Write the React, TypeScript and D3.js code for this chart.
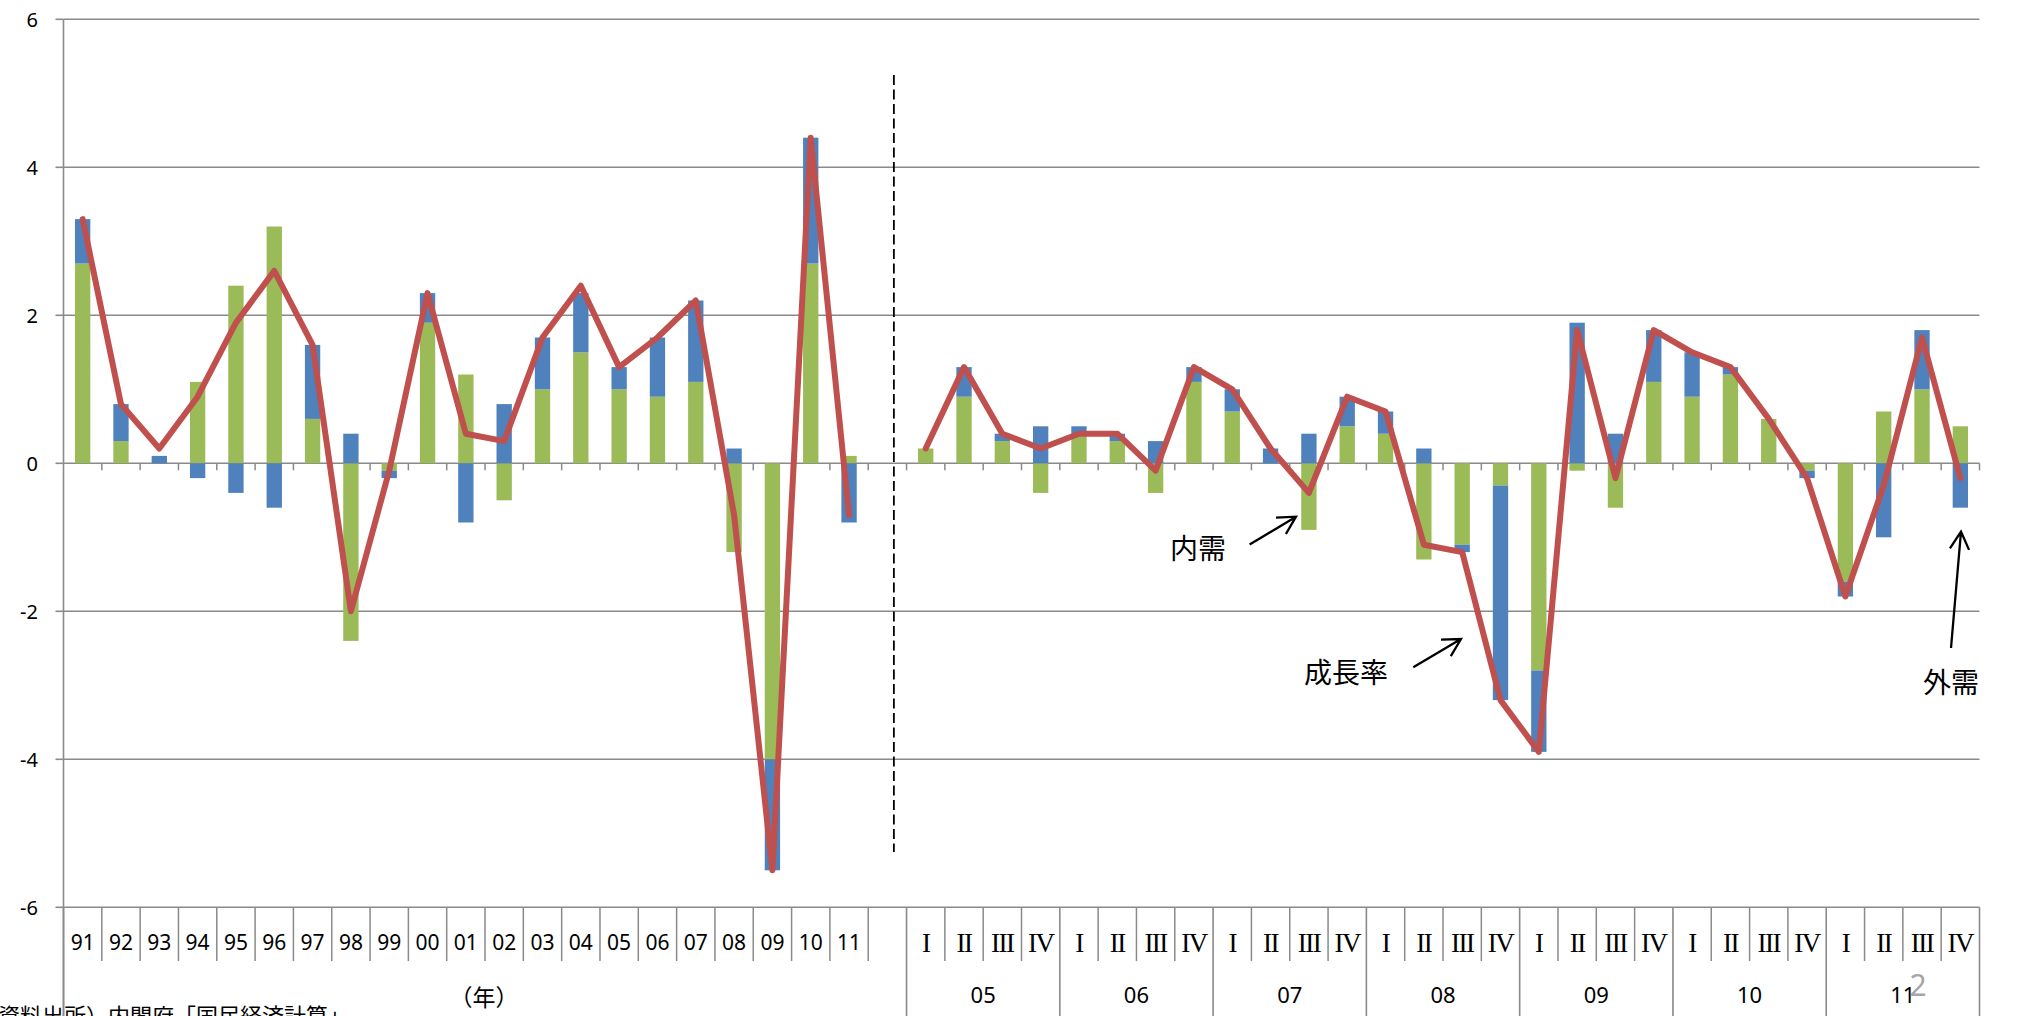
import React from "react";
import * as d3 from "d3";

// annual contributions (%), 1991-2011
const annualLabels = ["91", "92", "93", "94", "95", "96", "97", "98", "99", "00", "01", "02", "03", "04", "05", "06", "07", "08", "09", "10", "11"];
const annualDomestic = [2.7, 0.3, 0.0, 1.1, 2.4, 3.2, 0.6, -2.4, -0.1, 1.9, 1.2, -0.5, 1.0, 1.5, 1.0, 0.9, 1.1, -1.2, -4.0, 2.7, 0.1];
const annualExternal = [0.6, 0.5, 0.1, -0.2, -0.4, -0.6, 1.0, 0.4, -0.1, 0.4, -0.8, 0.8, 0.7, 0.8, 0.3, 0.8, 1.1, 0.2, -1.5, 1.7, -0.8];
const annualGrowth = [3.3, 0.8, 0.2, 0.9, 1.9, 2.6, 1.6, -2.0, -0.1, 2.3, 0.4, 0.3, 1.7, 2.4, 1.3, 1.7, 2.2, -0.7, -5.5, 4.4, -0.7];

// quarterly contributions (%), 2005 I - 2011 IV
const quarterYears = ["05", "06", "07", "08", "09", "10", "11"];
const quarterNames = ["I", "II", "III", "IV"];
const quarterDomestic = [
  0.2, 0.9, 0.3, -0.4,
  0.4, 0.3, -0.4, 1.1,
  0.7, 0.0, -0.9, 0.5,
  0.4, -1.3, -1.1, -0.3,
  -2.8, -0.1, -0.6, 1.1,
  0.9, 1.2, 0.6, -0.1,
  -1.6, 0.7, 1.0, 0.5,
];
const quarterExternal = [
  0.0, 0.4, 0.1, 0.5,
  0.1, 0.1, 0.3, 0.2,
  0.3, 0.2, 0.4, 0.4,
  0.3, 0.2, -0.1, -2.9,
  -1.1, 1.9, 0.4, 0.7,
  0.6, 0.1, 0.0, -0.1,
  -0.2, -1.0, 0.8, -0.6,
];
const quarterGrowth = [
  0.2, 1.3, 0.4, 0.2,
  0.4, 0.4, -0.1, 1.3,
  1.0, 0.2, -0.4, 0.9,
  0.7, -1.1, -1.2, -3.2,
  -3.9, 1.8, -0.2, 1.8,
  1.5, 1.3, 0.6, -0.2,
  -1.8, -0.3, 1.7, -0.2,
];

const yTicks = [-6, -4, -2, 0, 2, 4, 6];

type Row = {
  key: string;
  label: string;
  kind: "year" | "gap" | "quarter";
  group: string;
  domestic: number;
  external: number;
  growth: number | null;
};

const rows: Row[] = [
  ...annualLabels.map((l, i) => ({
    key: "a" + l,
    label: l,
    kind: "year" as const,
    group: "",
    domestic: annualDomestic[i],
    external: annualExternal[i],
    growth: annualGrowth[i],
  })),
  { key: "gap", label: "", kind: "gap" as const, group: "", domestic: 0, external: 0, growth: null },
  ...quarterYears.flatMap((yr, yi) =>
    quarterNames.map((q, qi) => {
      const i = yi * 4 + qi;
      return {
        key: "q" + yr + "-" + q,
        label: q,
        kind: "quarter" as const,
        group: yr,
        domestic: quarterDomestic[i],
        external: quarterExternal[i],
        growth: quarterGrowth[i],
      };
    })
  ),
];

const W = 2017;
const H = 1016;
const left = 63.5;
const right = 1979.5;
const top = 19.3;
const bottom = 907.3;
const grey = "#8a8a8a";
const colors: Record<string, string> = { domestic: "#9BBB59", external: "#4F81BD" };
const sans = "'Noto Sans', 'Noto Sans CJK JP', sans-serif";
const cjk = "'Noto Sans CJK JP', 'Noto Sans', sans-serif";

// simple open arrow (line + two barbs)
function arrowPath(x1: number, y1: number, x2: number, y2: number) {
  const a = Math.atan2(y2 - y1, x2 - x1);
  const len = 20;
  const spread = 0.5;
  const b1 = [x2 - len * Math.cos(a - spread), y2 - len * Math.sin(a - spread)];
  const b2 = [x2 - len * Math.cos(a + spread), y2 - len * Math.sin(a + spread)];
  return `M${x1},${y1}L${x2},${y2}M${b1[0]},${b1[1]}L${x2},${y2}L${b2[0]},${b2[1]}`;
}

const App = () => {
  const x = d3
    .scaleBand<string>()
    .domain(rows.map((d) => d.key))
    .range([left, right])
    .paddingInner(0.6)
    .paddingOuter(0.3);
  const y = d3.scaleLinear().domain([-6, 6]).range([bottom, top]);
  const step = x.step();
  const bw = x.bandwidth();
  const cellStart = (k: string) => (x(k) as number) - (step - bw) / 2;
  const center = (k: string) => (x(k) as number) + bw / 2;

  const series = d3
    .stack<Row>()
    .keys(["domestic", "external"])
    .value((d, k) => (d as any)[k] as number)
    .offset(d3.stackOffsetDiverging)(rows);

  const line = d3
    .line<Row>()
    .defined((d) => d.growth !== null)
    .x((d) => center(d.key))
    .y((d) => y(d.growth as number));

  const annualRows = rows.filter((d) => d.kind === "year");
  const quarterRows = rows.filter((d) => d.kind === "quarter");
  const gapRow = rows.find((d) => d.kind === "gap") as Row;
  const y0 = y(0);

  // table cell boundaries below the plot
  const shortLines: number[] = [];
  const longLines: number[] = [left];
  rows.forEach((d, i) => {
    if (i === 0) return;
    if (d.kind === "quarter" && d.label === "I") longLines.push(cellStart(d.key));
    else shortLines.push(cellStart(d.key));
  });
  longLines.push(right);

  const dashX = center(gapRow.key) + 6.5;

  return (
    <>
      <style>{`body{margin:0;overflow:hidden;background:#fff}`}</style>
      <svg width={W} height={H} style={{ position: "absolute", left: 0, top: 0, display: "block", background: "#fff" }}>
        {/* gridlines */}
        {yTicks.map((t) => (
          <g key={t}>
            <line x1={left} x2={right} y1={y(t)} y2={y(t)} stroke={grey} strokeWidth={1.6} />
            <line x1={left - 8} x2={left} y1={y(t)} y2={y(t)} stroke={grey} strokeWidth={1.6} />
            <text x={38} y={y(t) + 8} textAnchor="end" fontFamily={sans} fontSize={20} fill="#000">
              {t}
            </text>
          </g>
        ))}

        {/* y axis, extended through the table */}
        <line x1={left} x2={left} y1={top} y2={H} stroke={grey} strokeWidth={1.6} />

        {/* category ticks on the zero line */}
        {rows.slice(1).map((d) => (
          <line key={"t" + d.key} x1={cellStart(d.key)} x2={cellStart(d.key)} y1={y0} y2={y0 + 7} stroke={grey} strokeWidth={1.5} />
        ))}
        <line x1={right} x2={right} y1={y0} y2={y0 + 7} stroke={grey} strokeWidth={1.5} />

        {/* stacked bars */}
        {series.map((s) => (
          <g key={s.key} fill={colors[s.key]}>
            {s.map((p, i) => {
              const h = Math.abs(y(p[0]) - y(p[1]));
              if (h < 0.01) return null;
              return <rect key={i} x={x(rows[i].key)} y={Math.min(y(p[0]), y(p[1]))} width={bw} height={h} />;
            })}
          </g>
        ))}

        {/* growth rate line */}
        <path d={line(rows) as string} fill="none" stroke="#C0504D" strokeWidth={6} strokeLinejoin="round" strokeLinecap="round" />

        {/* divider between annual and quarterly */}
        <line x1={dashX} x2={dashX} y1={75} y2={852} stroke="#000" strokeWidth={1.8} strokeDasharray="10,4.5" />

        {/* table lines */}
        {shortLines.map((lx, i) => (
          <line key={"s" + i} x1={lx} x2={lx} y1={bottom} y2={961} stroke={grey} strokeWidth={1.5} />
        ))}
        {longLines.map((lx, i) => (
          <line key={"l" + i} x1={lx} x2={lx} y1={bottom} y2={H} stroke={grey} strokeWidth={1.6} />
        ))}

        {/* category labels */}
        {annualRows.map((d) => (
          <text key={"al" + d.key} x={center(d.key)} y={950} textAnchor="middle" fontFamily={sans} fontSize={21} fill="#000">
            {d.label}
          </text>
        ))}
        {quarterRows.map((d) => (
          <text
            key={"ql" + d.key}
            x={center(d.key)}
            y={952}
            textAnchor="middle"
            fontFamily="'Liberation Serif', 'DejaVu Serif', serif"
            fontSize={27}
            letterSpacing={-1.5}
            fill="#000"
          >
            {d.label}
          </text>
        ))}
        {quarterYears.map((yr) => {
          const g = quarterRows.filter((d) => d.group === yr);
          const cx = (cellStart(g[0].key) + cellStart(g[g.length - 1].key) + step) / 2;
          return (
            <text key={"yr" + yr} x={cx} y={1003} textAnchor="middle" fontFamily={sans} fontSize={22} fill="#000">
              {yr}
            </text>
          );
        })}
        <text x={484} y={1006} textAnchor="middle" fontFamily={cjk} fontSize={23} fill="#000">
          （年）
        </text>

        {/* annotations */}
        <text x={1198} y={559} textAnchor="middle" fontFamily={cjk} fontSize={28} fill="#000">
          内需
        </text>
        <path d={arrowPath(1249.6, 544.6, 1296, 516.7)} fill="none" stroke="#000" strokeWidth={2.3} />
        <text x={1346} y={683} textAnchor="middle" fontFamily={cjk} fontSize={28} fill="#000">
          成長率
        </text>
        <path d={arrowPath(1413.3, 667.3, 1461, 639)} fill="none" stroke="#000" strokeWidth={2.3} />
        <text x={1951} y={693} textAnchor="middle" fontFamily={cjk} fontSize={28} fill="#000">
          外需
        </text>
        <path d={arrowPath(1951, 648, 1961, 531.6)} fill="none" stroke="#000" strokeWidth={2.3} />

        {/* source note and page number */}
        <text x={-2} y={1024} fontFamily={cjk} fontSize={22} fill="#000">
          資料出所）内閣府「国民経済計算」
        </text>
        <text x={1918} y={996} textAnchor="middle" fontFamily={sans} fontSize={30} fill="#a6a6a6">
          2
        </text>
      </svg>
    </>
  );
};

export default App;
